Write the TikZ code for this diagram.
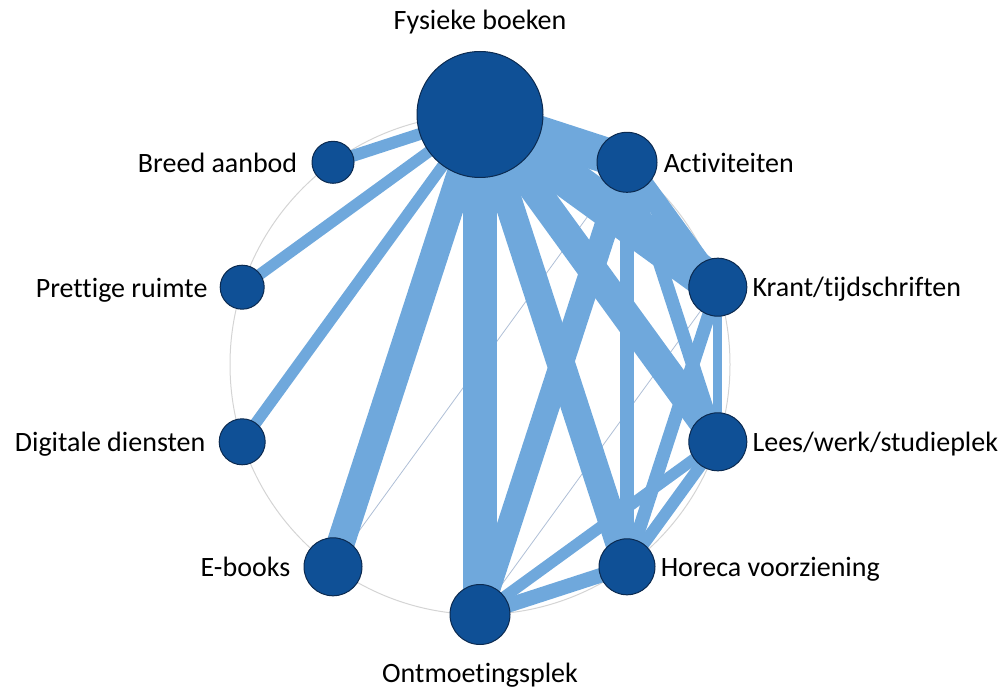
\documentclass[tikz,border=0pt]{standalone}
\usepackage{fontspec}
\setmainfont{Carlito}[Ligatures={NoCommon,NoRare,NoDiscretionary}]
\usetikzlibrary{backgrounds,calc}
\definecolor{nodeblue}{HTML}{0F5096}
\definecolor{nodeline}{HTML}{0B2A50}
\definecolor{edgeblue}{HTML}{6FA8DC}
\definecolor{ringgrey}{HTML}{D4D4D4}
\definecolor{thinblue}{HTML}{AFBFD6}
\begin{document}
\begin{tikzpicture}[x=0.75pt,y=-0.75pt,
  vert/.style={circle,fill=nodeblue,draw=nodeline,line width=0.75pt,inner sep=0pt,minimum size=#1},
  lab/.style={font=\fontsize{21}{25}\selectfont,inner sep=0pt,text=black},
  edge/.style={draw=edgeblue,line width=#1},
  thinedge/.style={draw=thinblue,line width=0.6pt}]
\useasboundingbox (0,0) rectangle (1007,691);
% nodes
\node[vert=94.5pt] (fys) at (480,114.5) {};
\node[vert=45pt] (act) at (627,162.3) {};
\node[vert=43.5pt] (kra) at (717.8,287.2) {};
\node[vert=43.5pt] (lee) at (717.8,441.8) {};
\node[vert=42pt] (hor) at (627,566.8) {};
\node[vert=45pt] (ont) at (480,614.5) {};
\node[vert=43.5pt] (ebk) at (333,566.8) {};
\node[vert=34.5pt] (dig) at (242.2,441.8) {};
\node[vert=33pt] (pre) at (242.2,287.2) {};
\node[vert=31.5pt] (bre) at (333,162.3) {};
% labels
\node[lab,anchor=base] (lfys) at (480,30) {Fysieke boeken};
\node[lab,anchor=base west] (lact) at ($(act.east)+(6,10)$) {Activiteiten};
\node[lab,anchor=base west] (lkra) at ($(kra.east)+(5,9)$) {Krant/tijdschriften};
\node[lab,anchor=base west] (llee) at ($(lee.east)+(5,10)$) {Lees/werk/studieplek};
\node[lab,anchor=base west] (lhor) at ($(hor.east)+(5,10)$) {Horeca voorziening};
\node[lab,anchor=base] (lont) at (480,682) {Ontmoetingsplek};
\node[lab,anchor=base east] (lebk) at ($(ebk.west)+(-13,10)$) {E-books};
\node[lab,anchor=base east] (ldig) at ($(dig.west)+(-13,10)$) {Digitale diensten};
\node[lab,anchor=base east] (lpre) at ($(pre.west)+(-12,10)$) {Prettige ruimte};
\node[lab,anchor=base east] (lbre) at ($(bre.west)+(-14,10)$) {Breed aanbod};
% edges
\begin{scope}[on background layer]
\draw[ringgrey,line width=0.75pt] (480,364.5) circle [radius=250];
\draw[thinedge] (ebk.center) -- (act.center);
\draw[thinedge] (ont.center) -- (kra.center);
\draw[edge=9pt] (fys.center) -- (bre.center);
\draw[edge=8.5pt] (fys.center) -- (pre.center);
\draw[edge=8.5pt] (fys.center) -- (dig.center);
\draw[edge=21pt] (fys.center) -- (ebk.center);
\draw[edge=25pt] (fys.center) -- (ont.center);
\draw[edge=21pt] (fys.center) -- (hor.center);
\draw[edge=22pt] (fys.center) -- (lee.center);
\draw[edge=30pt] (fys.center) -- (kra.center);
\draw[edge=27pt] (fys.center) -- (act.center);
\draw[edge=16pt] (act.center) -- (kra.center);
\draw[edge=10pt] (act.center) -- (lee.center);
\draw[edge=10pt] (act.center) -- (hor.center);
\draw[edge=18pt] (act.center) -- (ont.center);
\draw[edge=7pt] (kra.center) -- (lee.center);
\draw[edge=10pt] (kra.center) -- (hor.center);
\draw[edge=9pt] (lee.center) -- (hor.center);
\draw[edge=8.5pt] (lee.center) -- (ont.center);
\draw[edge=11pt] (hor.center) -- (ont.center);
\end{scope}
\end{tikzpicture}
\end{document}
